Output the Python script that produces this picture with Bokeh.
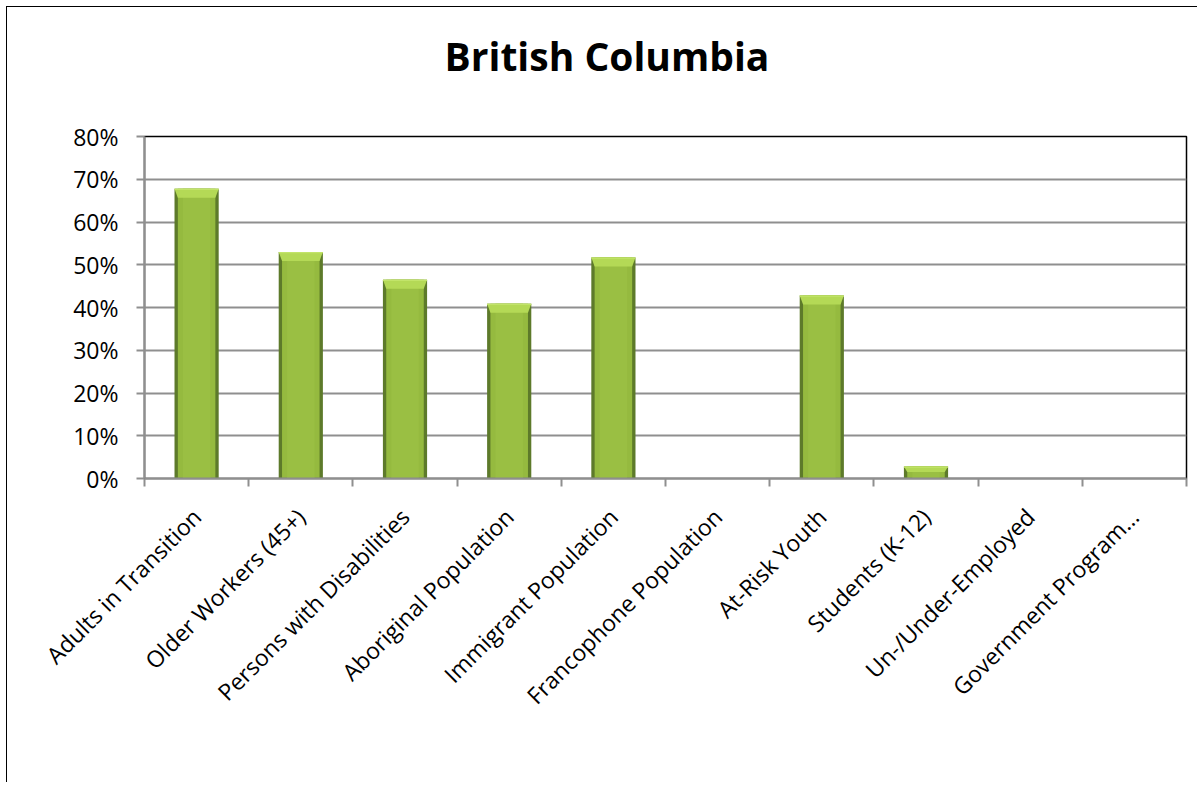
import math
from bokeh.plotting import figure
from bokeh.models import FixedTicker, NumeralTickFormatter, Range1d, Div
from bokeh.layouts import column
from bokeh.embed import file_html
from bokeh.resources import INLINE

title_text = "British Columbia"
categories = ["Adults in Transition", "Older Workers (45+)", "Persons with Disabilities",
              "Aboriginal Population", "Immigrant Population", "Francophone Population",
              "At-Risk Youth", "Students (K-12)", "Un-/Under-Employed", "Government Program…"]
values = [0.678, 0.530, 0.465, 0.409, 0.517, 0.0, 0.428, 0.028, 0.0, 0.0]
y_ticks = [0.0, 0.1, 0.2, 0.3, 0.4, 0.5, 0.6, 0.7, 0.8]

FONT = "Open Sans"
n = len(categories)
xs = [i + 0.5 for i in range(n)]

TITLE_H = 100
title = Div(text=title_text, width=1190, height=TITLE_H, height_policy="fixed",
            styles={"font-family": FONT, "font-size": "39px", "font-weight": "bold",
                    "line-height": "97px", "text-align": "center", "color": "black",
                    "text-indent": "10px",
                    "margin": "0px", "padding": "0px", "overflow": "hidden",
                    "background-color": "white"})

p = figure(width=1190, height=775 - TITLE_H, output_backend="svg", toolbar_location=None,
           x_range=Range1d(0, n), y_range=Range1d(0, 0.8),
           min_border_left=137, min_border_right=11, min_border_top=129 - TITLE_H,
           min_border_bottom=304)

p.outline_line_color = "black"
p.outline_line_width = 1.5
p.background_fill_color = "white"
p.border_fill_color = "white"

# grid
p.xgrid.grid_line_color = None
p.ygrid.ticker = FixedTicker(ticks=y_ticks)
p.ygrid.grid_line_color = "#8f8f8f"
p.ygrid.grid_line_width = 1.8

# y axis
p.yaxis.ticker = FixedTicker(ticks=y_ticks)
p.yaxis.formatter = NumeralTickFormatter(format="0%")
p.yaxis.axis_line_color = "#8f8f8f"
p.yaxis.axis_line_width = 2
p.yaxis.major_tick_line_color = "#8f8f8f"
p.yaxis.major_tick_line_width = 2
p.yaxis.major_tick_in = 0
p.yaxis.major_tick_out = 8
p.yaxis.minor_tick_line_color = None
p.yaxis.major_label_standoff = 18
p.yaxis.major_label_text_font = FONT
p.yaxis.major_label_text_font_size = "23px"
p.yaxis.major_label_text_color = "black"

# x axis: labels at centres, ticks at category boundaries
p.xaxis.ticker = FixedTicker(ticks=xs, minor_ticks=list(range(n + 1)))
p.xaxis.major_label_overrides = {x: c for x, c in zip(xs, categories)}
p.xaxis.major_label_orientation = math.pi / 4
p.xaxis.axis_line_color = "#8f8f8f"
p.xaxis.axis_line_width = 2
p.xaxis.major_tick_line_color = None
p.xaxis.major_tick_in = 0
p.xaxis.major_tick_out = 8
p.xaxis.minor_tick_line_color = "#8f8f8f"
p.xaxis.minor_tick_line_width = 2
p.xaxis.minor_tick_in = 0
p.xaxis.minor_tick_out = 8
p.xaxis.major_label_standoff = 26
p.xaxis.major_label_text_font = FONT
p.xaxis.major_label_text_font_size = "23px"
p.xaxis.major_label_text_color = "black"

# bars
bw = 0.424
edge = 0.032
bx = [x for x, v in zip(xs, values) if v > 0]
bv = [v for v in values if v > 0]

p.vbar(x=bx, top=bv, bottom=0, width=bw, fill_color="#5d7a2a", line_color=None)
p.vbar(x=bx, top=bv, bottom=0.002, width=bw - 2 * edge, fill_color="#95ba3f", line_color=None)
p.vbar(x=bx, top=bv, bottom=0.002, width=bw - 5 * edge, fill_color="#9abf43", line_color=None)
# top bevel
pxs, pys = [], []
for x, v in zip(bx, bv):
    b = min(0.021, v * 0.45)
    pxs.append([x - bw / 2, x + bw / 2, x + bw / 2 - edge, x - bw / 2 + edge])
    pys.append([v, v, v - b, v - b])
p.patches(pxs, pys, fill_color="#b4d956", line_color=None)
p.vbar(x=bx, top=bv, bottom=[v - 0.003 for v in bv], width=bw, fill_color="#c2e46a", line_color=None)

layout = column(title, p, spacing=0,
                styles={"border-left": "1px solid black", "border-top": "1px solid black",
                        "margin-left": "6px", "margin-top": "6px", "background-color": "white"})

open("out.html", "w").write(file_html(layout, INLINE))
